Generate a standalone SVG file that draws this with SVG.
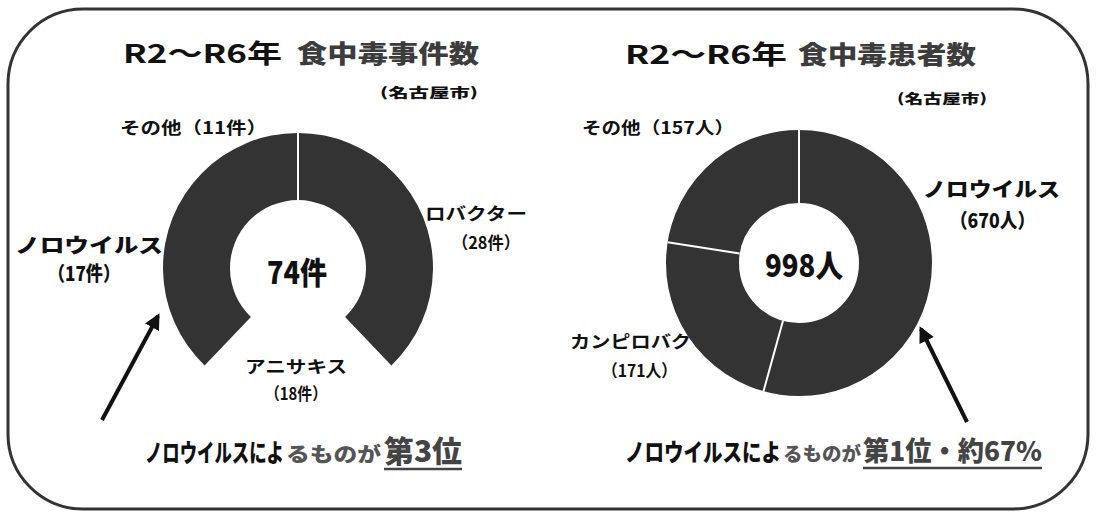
<svg xmlns="http://www.w3.org/2000/svg" width="1098" height="522" viewBox="0 0 1098 522">
<defs>
<style>
.t{font-family:"Noto Sans CJK JP","Liberation Sans",sans-serif;font-weight:700;fill:#111}
.ttl{font-size:26px}
.ttlg{font-size:25px;font-weight:900;fill:#3c3c3c}
.sub{font-size:13px;font-weight:900}
.lbl{font-size:17px}
.lblb{font-size:20px;font-weight:900}
.ctr{font-size:31px;font-weight:900}
.bk{font-weight:900;fill:#111}
.bg{font-weight:900;fill:#555}
.bb{font-weight:900;fill:#444}
.donut{fill:#333}
.sep{stroke:#fff;stroke-width:2}
.arr{stroke:#111;stroke-width:4;fill:none}
.ul{stroke:#444;stroke-width:2.5}
</style>
<marker id="ah" viewBox="0 0 10 10" refX="8" refY="5" markerWidth="4" markerHeight="4" orient="auto" markerUnits="strokeWidth">
<path d="M0,0 L10,5 L0,10 z" fill="#111"/>
</marker>
</defs>
<rect x="8" y="9" width="1080" height="500" rx="75" ry="75" fill="#fff" stroke="#333" stroke-width="3"/>

<g id="left-title">
<text class="t ttl" x="123" y="63" textLength="159" lengthAdjust="spacingAndGlyphs">R2～R6年</text>
<text class="t ttlg" x="297" y="63" textLength="182" lengthAdjust="spacingAndGlyphs">食中毒事件数</text>
<text class="t sub" x="380" y="97" textLength="98" lengthAdjust="spacingAndGlyphs">(名古屋市)</text>
</g>
<g id="left-donut">
<path class="donut" d="M204.6 365.4 A135 135 0 1 1 391.4 365.4 L345.1 317.1 A68 68 0 1 0 250.9 317.1 Z"/>
<line class="sep" x1="298" y1="133" x2="298" y2="200"/>
<text class="t ctr" x="297" y="284" text-anchor="middle" textLength="60" lengthAdjust="spacingAndGlyphs">74件</text>
</g>
<g id="left-other">
<text class="t lbl" x="120" y="134" textLength="147" lengthAdjust="spacingAndGlyphs">その他（11件）</text>
</g>
<g id="left-campylo">
<text class="t lbl" x="425" y="220" textLength="102" lengthAdjust="spacingAndGlyphs">ロバクター</text>
<text class="t lbl" x="452" y="249" textLength="68" lengthAdjust="spacingAndGlyphs">（28件）</text>
</g>
<g id="left-noro">
<text class="t lblb" x="15" y="253" textLength="148" lengthAdjust="spacingAndGlyphs">ノロウイルス</text>
<text class="t lblb" x="48" y="281" textLength="72" lengthAdjust="spacingAndGlyphs">（17件）</text>
</g>
<g id="left-anisakis">
<text class="t lbl" x="245" y="373" textLength="102" lengthAdjust="spacingAndGlyphs">アニサキス</text>
<text class="t lbl" x="265" y="400" textLength="62" lengthAdjust="spacingAndGlyphs">（18件）</text>
</g>
<g id="left-note">
<text class="t bk" font-size="17.5" transform="translate(145 462) scale(1 1.4)" x="0" y="0" textLength="139" lengthAdjust="spacingAndGlyphs">ノロウイルスによ</text>
<text class="t bg" font-size="24" transform="translate(286 462) scale(1 0.85)" x="0" y="0" textLength="95" lengthAdjust="spacingAndGlyphs">るものが</text>
<text class="t bb" font-size="30" x="384" y="462" textLength="78" lengthAdjust="spacingAndGlyphs">第3位</text>
<line class="ul" x1="384" y1="469" x2="462" y2="469"/>
</g>

<g id="right-title">
<text class="t ttl" x="625" y="64" textLength="162" lengthAdjust="spacingAndGlyphs">R2～R6年</text>
<text class="t ttlg" x="798" y="64" textLength="178" lengthAdjust="spacingAndGlyphs">食中毒患者数</text>
<text class="t sub" x="897" y="103" textLength="90" lengthAdjust="spacingAndGlyphs">(名古屋市)</text>
</g>
<g id="right-donut">
<circle cx="799" cy="263" r="96.5" fill="none" stroke="#333" stroke-width="73"/>
<line class="sep" x1="799" y1="130" x2="799" y2="203"/>
<line class="sep" x1="783" y1="320.8" x2="763.5" y2="391.2"/>
<line class="sep" x1="739.7" y1="253.6" x2="667.6" y2="242.2"/>
<text class="t ctr" x="804" y="277" text-anchor="middle" textLength="78" lengthAdjust="spacingAndGlyphs">998人</text>
</g>
<g id="right-other">
<text class="t lbl" x="582" y="134" textLength="152" lengthAdjust="spacingAndGlyphs">その他（157人）</text>
</g>
<g id="right-noro">
<text class="t lblb" x="923" y="197" textLength="137" lengthAdjust="spacingAndGlyphs">ノロウイルス</text>
<text class="t lblb" x="950" y="228" textLength="85" lengthAdjust="spacingAndGlyphs">（670人）</text>
</g>
<g id="right-campylo">
<text class="t lbl" x="570" y="348" textLength="121" lengthAdjust="spacingAndGlyphs">カンピロバク</text>
<text class="t lbl" x="602" y="377" textLength="75" lengthAdjust="spacingAndGlyphs">（171人）</text>
</g>
<g id="right-note">
<text class="t bk" font-size="19.5" transform="translate(625 461) scale(1 1.25)" x="0" y="0" textLength="156" lengthAdjust="spacingAndGlyphs">ノロウイルスによ</text>
<text class="t bg" font-size="19.5" x="783" y="461" textLength="78" lengthAdjust="spacingAndGlyphs">るものが</text>
<text class="t bb" font-size="27" x="863" y="461" textLength="179" lengthAdjust="spacingAndGlyphs">第1位・約67%</text>
<line class="ul" x1="863" y1="468" x2="1042" y2="468"/>
</g>

<g id="connectors">
<line class="arr" x1="102" y1="420" x2="158" y2="316" marker-end="url(#ah)"/>
<line class="arr" x1="967" y1="422" x2="921" y2="329" marker-end="url(#ah)"/>
</g>
</svg>
